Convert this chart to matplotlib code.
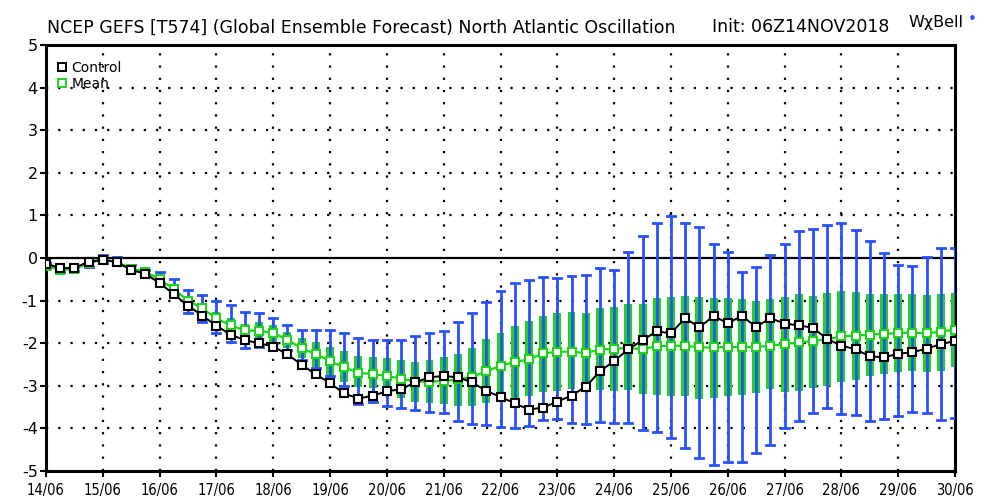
import matplotlib
matplotlib.use("Agg")
import matplotlib.pyplot as plt
from matplotlib.lines import Line2D
from matplotlib.patches import Rectangle
import numpy as np

day_labels = ["14/06", "15/06", "16/06", "17/06", "18/06", "19/06", "20/06", "21/06",
              "22/06", "23/06", "24/06", "25/06", "26/06", "27/06", "28/06", "29/06", "30/06"]

control = [-0.13, -0.24, -0.23, -0.09, -0.04, -0.10, -0.28, -0.37, -0.59, -0.85,
           -1.12, -1.35, -1.59, -1.80, -1.93, -2.00, -2.08, -2.26, -2.51, -2.73,
           -2.94, -3.18, -3.30, -3.23, -3.13, -3.08, -2.92, -2.80, -2.77, -2.80,
           -2.92, -3.12, -3.26, -3.41, -3.56, -3.51, -3.37, -3.23, -3.02, -2.66,
           -2.42, -2.14, -1.93, -1.72, -1.77, -1.41, -1.63, -1.36, -1.53, -1.36,
           -1.62, -1.41, -1.54, -1.58, -1.64, -1.90, -2.06, -2.14, -2.31, -2.33,
           -2.25, -2.21, -2.13, -2.02, -1.95]

mean = [-0.18, -0.28, -0.26, -0.12, -0.04, -0.09, -0.25, -0.32, -0.50, -0.73,
        -1.00, -1.18, -1.42, -1.58, -1.70, -1.71, -1.76, -1.92, -2.12, -2.26,
        -2.42, -2.57, -2.69, -2.73, -2.77, -2.83, -2.90, -2.90, -2.89, -2.85,
        -2.79, -2.66, -2.53, -2.44, -2.38, -2.24, -2.20, -2.20, -2.23, -2.15,
        -2.13, -2.11, -2.14, -2.07, -2.06, -2.06, -2.10, -2.10, -2.09, -2.09,
        -2.09, -2.06, -2.02, -1.98, -1.95, -1.91, -1.84, -1.82, -1.80, -1.78,
        -1.76, -1.75, -1.77, -1.73, -1.68]

box_top = [-0.15, -0.25, -0.23, -0.09, -0.01, -0.06, -0.22, -0.28, -0.45, -0.66,
           -0.92, -1.07, -1.27, -1.40, -1.55, -1.50, -1.58, -1.73, -1.87, -1.98,
           -2.08, -2.19, -2.30, -2.33, -2.35, -2.40, -2.44, -2.39, -2.33, -2.26,
           -2.12, -1.91, -1.75, -1.59, -1.48, -1.36, -1.30, -1.27, -1.30, -1.17,
           -1.14, -1.07, -1.07, -0.95, -0.91, -0.89, -0.91, -0.95, -0.95, -0.97,
           -1.01, -0.97, -0.91, -0.85, -0.89, -0.81, -0.77, -0.80, -0.84, -0.84,
           -0.85, -0.85, -0.87, -0.84, -0.81]

box_bot = [-0.22, -0.31, -0.29, -0.15, -0.07, -0.12, -0.29, -0.38, -0.58, -0.82,
           -1.10, -1.30, -1.58, -1.79, -1.89, -1.97, -1.98, -2.12, -2.35, -2.57,
           -2.76, -2.92, -3.03, -3.06, -3.01, -3.29, -3.37, -3.41, -3.43, -3.48,
           -3.48, -3.41, -3.35, -3.29, -3.23, -3.14, -3.12, -3.08, -3.14, -3.10,
           -3.13, -3.10, -3.20, -3.21, -3.25, -3.25, -3.31, -3.29, -3.25, -3.21,
           -3.18, -3.08, -3.14, -3.12, -3.06, -3.00, -2.92, -2.86, -2.78, -2.73,
           -2.67, -2.66, -2.67, -2.65, -2.57]

whisk_top = [-0.12, -0.23, -0.21, -0.06, 0.06, 0.03, -0.17, -0.27, -0.32, -0.50,
             -0.75, -0.87, -1.00, -1.11, -1.26, -1.30, -1.41, -1.58, -1.69, -1.69,
             -1.69, -1.76, -1.88, -1.92, -1.92, -1.92, -1.84, -1.75, -1.71, -1.50,
             -1.28, -1.03, -0.77, -0.59, -0.52, -0.45, -0.47, -0.42, -0.41, -0.23,
             -0.28, 0.14, 0.52, 0.83, 0.98, 0.81, 0.73, 0.33, 0.13, -0.32,
             -0.22, 0.07, 0.34, 0.63, 0.67, 0.77, 0.83, 0.66, 0.39, 0.11,
             -0.17, -0.19, 0.02, 0.23, 0.23]

whisk_bot = [-0.24, -0.33, -0.31, -0.20, -0.12, -0.14, -0.31, -0.40, -0.62, -0.86,
             -1.28, -1.50, -1.75, -1.98, -2.12, -2.08, -2.00, -2.16, -2.39, -2.59,
             -2.78, -3.00, -3.42, -3.37, -3.47, -3.53, -3.56, -3.61, -3.65, -3.83,
             -3.90, -3.92, -3.96, -3.98, -3.94, -3.81, -3.77, -3.88, -3.90, -3.84,
             -3.88, -3.87, -4.03, -4.09, -4.23, -4.45, -4.70, -4.85, -4.78, -4.78,
             -4.57, -4.38, -3.99, -3.83, -3.65, -3.53, -3.67, -3.68, -3.83, -3.78,
             -3.71, -3.61, -3.63, -3.81, -3.75]

x = np.arange(len(control)) * 0.25  # 6-hourly steps, in days since 14/06

GREEN = "#1ed21e"
BLUE = "#2850ff"
FONT = "DejaVu Sans"

fig = plt.figure(figsize=(10, 5), dpi=100)
ax = fig.add_axes([0.046, 0.058, 0.909, 0.852])
ax.set_xlim(0, 16)
ax.set_ylim(-5, 5)

# grid (dotted)
for d in range(1, 16):
    ax.axvline(d, color="black", lw=1.6, ls=(0, (1, 4.5)), zorder=1)
for v in range(-4, 5):
    if v != 0:
        ax.axhline(v, color="black", lw=1.6, ls=(0, (1, 4.5)), zorder=1)
ax.axhline(0, color="black", lw=1.6, zorder=2)

hw = 0.07
for xi, bt, bb, wt, wb in zip(x, box_top, box_bot, whisk_top, whisk_bot):
    ax.add_patch(Rectangle((xi - hw, bb), 2 * hw, bt - bb, facecolor=GREEN,
                           edgecolor="none", zorder=3))
    ax.plot([xi, xi], [wb, wt], color=BLUE, lw=2, zorder=4, solid_capstyle="butt")
    ax.plot([xi - hw, xi + hw], [wt, wt], color=BLUE, lw=2, zorder=4)
    ax.plot([xi - hw, xi + hw], [wb, wb], color=BLUE, lw=2, zorder=4)

ax.plot(x, mean, color=GREEN, lw=1.6, marker="s", ms=5.5, mfc="white",
        mec=GREEN, mew=1.5, zorder=5)
ax.plot(x, control, color="black", lw=1.4, marker="s", ms=5.5, mfc="white",
        mec="black", mew=1.5, zorder=6)

for s in ax.spines.values():
    s.set_linewidth(2.2)

ax.set_xticks(range(17))
ax.set_xticklabels(day_labels, fontsize=10.5, family=FONT, stretch="condensed")
ax.set_yticks(range(-5, 6))
ax.set_yticklabels([str(v) for v in range(-5, 6)], fontsize=11.5, family=FONT)
ax.tick_params(axis="both", direction="out", length=4, width=1.5, pad=2)
ax.tick_params(axis="x", pad=5)

handles = [Line2D([], [], ls="none", marker="s", ms=5.5, mfc="white", mec="black", mew=1.4),
           Line2D([], [], ls="none", marker="s", ms=5.5, mfc="white", mec=GREEN, mew=1.4)]
ax.legend(handles, ["Control", "Mean"], loc="upper left", frameon=False,
          handlelength=0.6, handletextpad=0.4, borderaxespad=0.3, labelspacing=0.15,
          prop={"family": FONT, "size": 10}, bbox_to_anchor=(0.002, 0.985))

fig.text(0.047, 0.935, "NCEP GEFS [T574] (Global Ensemble Forecast) North Atlantic Oscillation",
         fontsize=12.5, family=FONT, va="baseline", ha="left")
fig.text(0.712, 0.935, "Init: 06Z14NOV2018", fontsize=12.5, family=FONT,
         va="baseline", ha="left")
fig.text(0.908, 0.945, "W\u03c7Bell", fontsize=11.5, family=FONT, va="baseline", ha="left")
fig.text(0.968, 0.952, "\u2022", fontsize=11, color=BLUE, va="baseline", ha="left")

fig.savefig("out.png", dpi=100)
